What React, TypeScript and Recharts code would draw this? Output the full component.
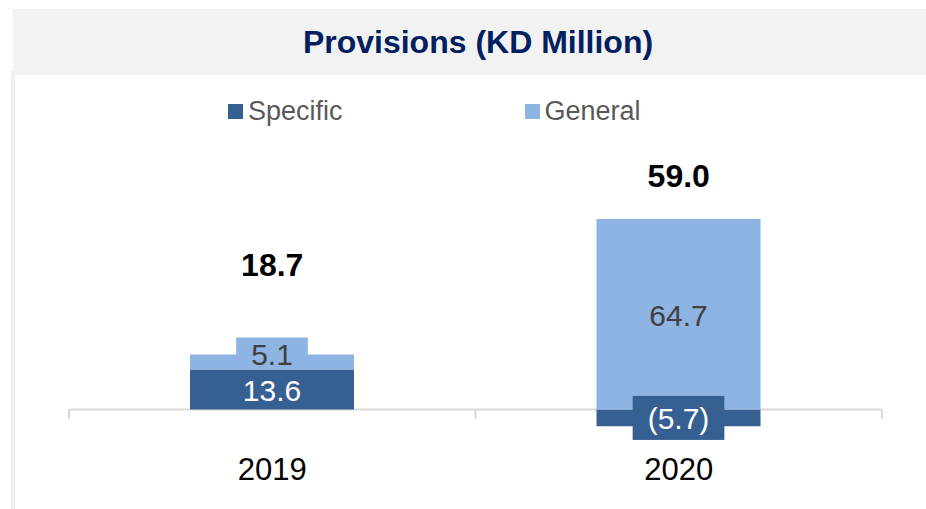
import React from 'react';
import { ComposedChart, Bar, Line, XAxis, YAxis, LabelList, ReferenceLine } from 'recharts';

if (typeof document !== 'undefined') {
  document.body.style.margin = '0';
}

// ---- data ----
const categories = ['2019', '2020'];
const specificValues = [13.6, -5.7];
const generalValues = [5.1, 64.7];
const totalValues = [18.7, 59.0];
const seriesNames = ['Specific', 'General'];
const titleText = 'Provisions (KD Million)';

const data = categories.map((year, i) => ({
  year,
  specific: specificValues[i],
  general: generalValues[i],
  total: totalValues[i],
}));

// ---- style ----
const FONT = '"Liberation Sans", Arial, Helvetica, sans-serif';
const W = 926;
const H = 509;
const MARGIN = { top: 174, right: 44, bottom: 40, left: 69 };
const XAXIS_H = 30;
const LEFT_DOMAIN: [number, number] = [-10, 80];
const TOTAL_DOMAIN: [number, number] = [-51, 69];
const PLOT_H = H - MARGIN.top - MARGIN.bottom - XAXIS_H;
const PLOT_BOTTOM = MARGIN.top + PLOT_H;
const ZERO_Y = MARGIN.top + (LEFT_DOMAIN[1] / (LEFT_DOMAIN[1] - LEFT_DOMAIN[0])) * PLOT_H;
const BAND_HALF = (W - MARGIN.left - MARGIN.right) / categories.length / 2;

const DARK = '#376092';
const LIGHT = '#8EB4E3';
const COLORS = [DARK, LIGHT];
const AXIS_COLOR = '#d9d9d9';

const fmt = (v: number) => (v < 0 ? `(${Math.abs(v).toFixed(1)})` : v.toFixed(1));

const charW: Record<string, number> = { '.': 0.278, '(': 0.333, ')': 0.333 };
const textWidth = (s: string, fs: number) =>
  s.split('').reduce((a, c) => a + (charW[c] ?? 0.556), 0) * fs;

const makeBoxLabel = (fill: string, color: string) => (props: any) => {
  const vb = props.viewBox || {};
  const x = props.x ?? vb.x;
  const y = props.y ?? vb.y;
  const width = props.width ?? vb.width;
  const height = props.height ?? vb.height;
  const value = Number(props.value);
  if (x == null || y == null) return null;
  const top = height < 0 ? y + height : y;
  const h = Math.abs(height);
  const fs = 30;
  const text = fmt(value);
  const bw = textWidth(text, fs) + 30;
  const bh = value < 0 ? 44 : 32;
  const center = top + h / 2;
  const cy = value >= 0 ? Math.min(center, top + h - bh / 2) : center;
  const cx = x + width / 2;
  return (
    <g>
      <rect x={cx - bw / 2} y={cy - bh / 2} width={bw} height={bh} fill={fill} />
      <text
        x={cx}
        y={cy + 1}
        textAnchor="middle"
        dominantBaseline="central"
        fontFamily={FONT}
        fontSize={fs}
        fill={color}
      >
        {text}
      </text>
    </g>
  );
};

const SpecificLabel = makeBoxLabel(DARK, '#ffffff');
const GeneralLabel = makeBoxLabel(LIGHT, '#404040');

const TotalLabel = (props: any) => {
  const { x, y, value } = props;
  if (x == null || y == null) return null;
  return (
    <text
      x={x}
      y={y - 20}
      textAnchor="middle"
      dominantBaseline="central"
      fontFamily={FONT}
      fontSize={32}
      fontWeight="bold"
      fill="#000000"
    >
      {Number(value).toFixed(1)}
    </text>
  );
};

const XTick = (props: any) => {
  const { x, payload, index } = props;
  const last = index === categories.length - 1;
  return (
    <g>
      <line x1={x - BAND_HALF} x2={x - BAND_HALF} y1={ZERO_Y} y2={ZERO_Y + 9} stroke={AXIS_COLOR} strokeWidth={2} />
      {last && (
        <line x1={x + BAND_HALF} x2={x + BAND_HALF} y1={ZERO_Y} y2={ZERO_Y + 9} stroke={AXIS_COLOR} strokeWidth={2} />
      )}
      <text
        x={x}
        y={PLOT_BOTTOM + 30}
        textAnchor="middle"
        dominantBaseline="central"
        fontFamily={FONT}
        fontSize={31}
        fill="#000000"
      >
        {payload.value}
      </text>
    </g>
  );
};

export default function App() {
  const refLineProps: any = { zIndex: 0 };
  return (
    <div style={{ position: 'relative', width: W, height: H, background: '#ffffff', overflow: 'hidden' }}>
      <div
        style={{
          position: 'absolute',
          left: 13,
          top: 9,
          width: W - 13,
          height: 66,
          background: '#f2f2f2',
          boxSizing: 'border-box',
          paddingLeft: 17,
          textAlign: 'center',
          lineHeight: '66px',
          fontFamily: FONT,
          fontWeight: 'bold',
          fontSize: 32,
          color: '#002060',
          whiteSpace: 'nowrap',
        }}
      >
        {titleText}
      </div>
      <div style={{ position: 'absolute', left: 11, top: 71, width: 4, height: H - 71, background: '#efefef' }} />
      <div
        style={{
          position: 'absolute',
          top: 96,
          left: 228,
          display: 'flex',
          alignItems: 'center',
          height: 30,
          fontFamily: FONT,
          fontSize: 27,
          color: '#595959',
        }}
      >
        {seriesNames.map((n, i) => (
          <div key={n} style={{ display: 'flex', alignItems: 'center', marginRight: i === 0 ? 182 : 0 }}>
            <span style={{ display: 'inline-block', width: 15, height: 15, background: COLORS[i], marginRight: 5 }} />
            <span style={{ lineHeight: '30px' }}>{n}</span>
          </div>
        ))}
      </div>
      <div style={{ position: 'absolute', left: 0, top: 0 }}>
        <ComposedChart width={W} height={H} data={data} margin={MARGIN} stackOffset="sign" style={{ overflow: 'visible' }}>
          <XAxis dataKey="year" axisLine={false} tickLine={false} height={XAXIS_H} tick={<XTick />} interval={0} />
          <YAxis yAxisId="left" hide domain={LEFT_DOMAIN} allowDataOverflow />
          <YAxis yAxisId="total" hide orientation="right" domain={TOTAL_DOMAIN} allowDataOverflow />
          <ReferenceLine yAxisId="left" y={0} stroke={AXIS_COLOR} strokeWidth={2} {...refLineProps} />
          <Bar yAxisId="left" dataKey="specific" name={seriesNames[0]} stackId="s" fill={DARK} barSize={164} isAnimationActive={false}>
            <LabelList dataKey="specific" content={SpecificLabel} />
          </Bar>
          <Bar yAxisId="left" dataKey="general" name={seriesNames[1]} stackId="s" fill={LIGHT} barSize={164} isAnimationActive={false}>
            <LabelList dataKey="general" content={GeneralLabel} />
          </Bar>
          <Line
            yAxisId="total"
            dataKey="total"
            stroke="none"
            dot={false}
            activeDot={false}
            legendType="none"
            isAnimationActive={false}
          >
            <LabelList dataKey="total" content={TotalLabel} />
          </Line>
        </ComposedChart>
      </div>
    </div>
  );
}
